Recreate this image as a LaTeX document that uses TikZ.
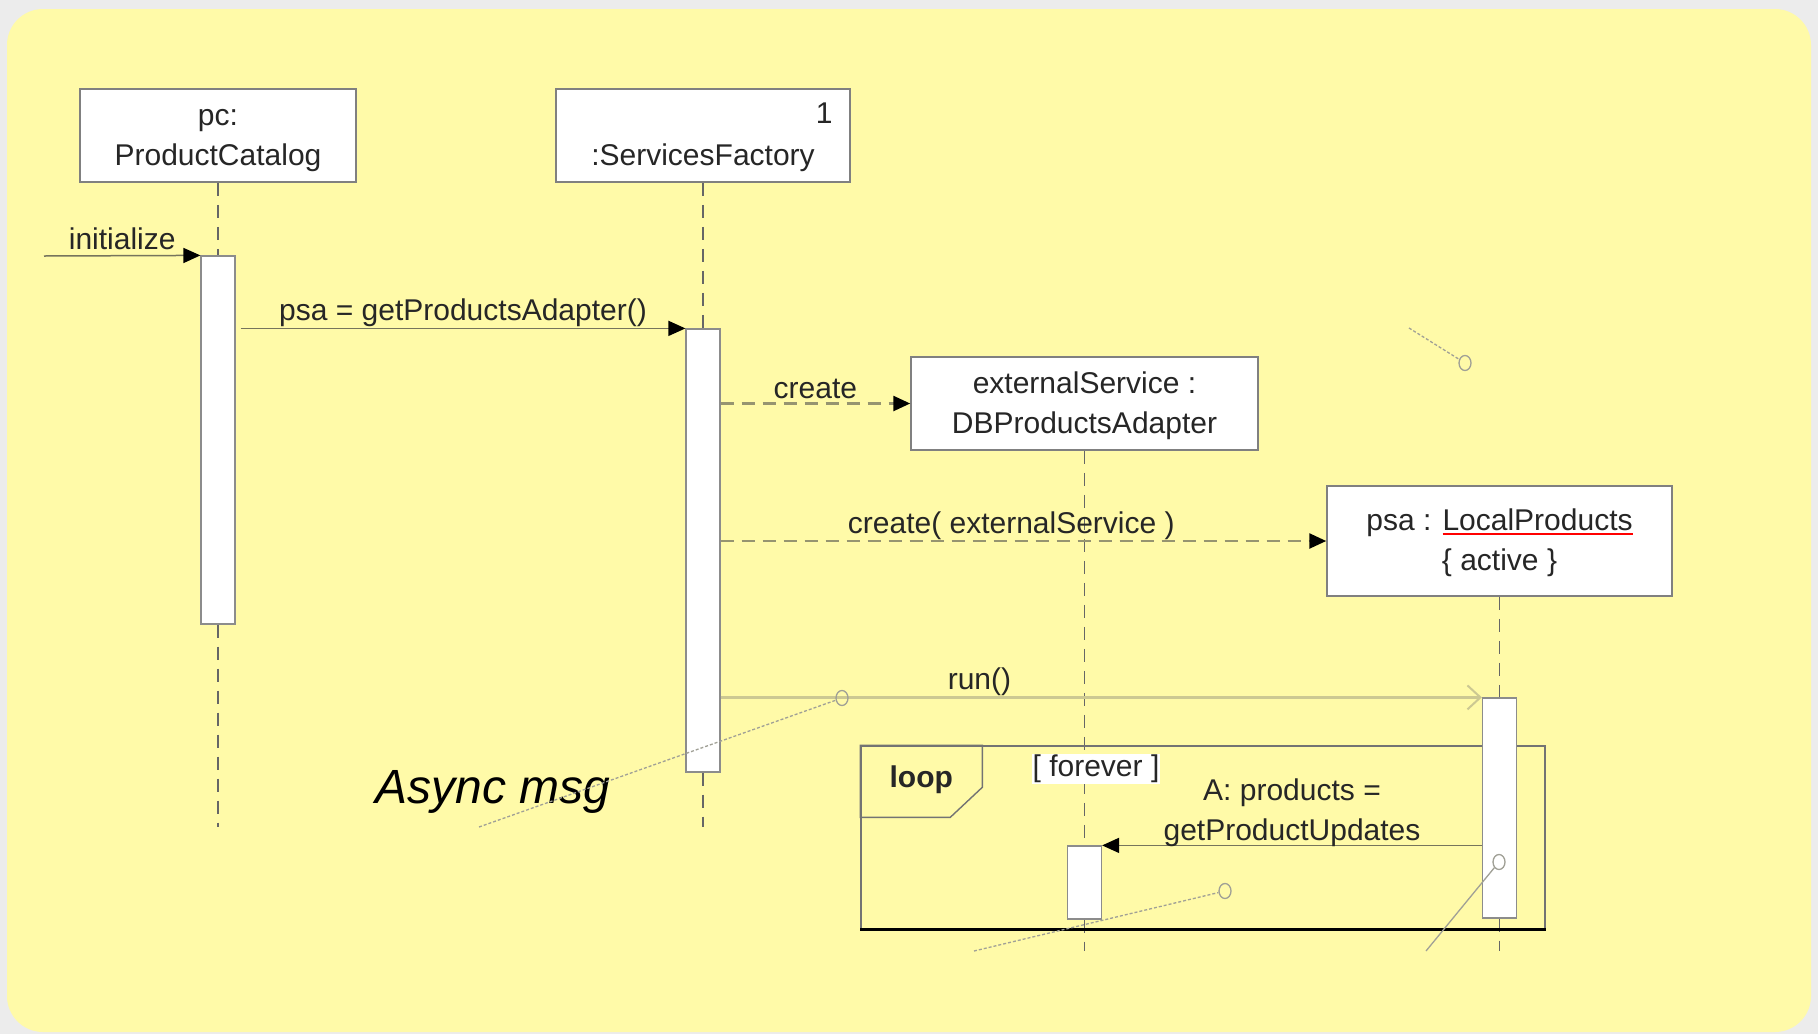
\documentclass[tikz,border=0pt]{standalone}
\usepackage{fontspec}
\setmainfont{Liberation Sans}
\usetikzlibrary{arrows.meta,positioning,shapes.geometric}

\definecolor{notepad}{RGB}{255,250,168}
\definecolor{pagegray}{RGB}{236,236,236}
\definecolor{msgline}{RGB}{118,116,92}
\definecolor{createline}{RGB}{150,148,112}
\definecolor{asyncline}{RGB}{204,200,146}
\definecolor{noteline}{RGB}{160,160,150}
\newsavebox\underbox
\newcommand\redunder[1]{\sbox\underbox{#1}\rlap{\textcolor{red}{\rule[-4pt]{\wd\underbox}{2.2pt}}}\usebox\underbox}
\newcommand\firstline{\rule{0pt}{26pt}}

\tikzset{
  umltext/.style={font=\fontsize{30}{40}\selectfont,text=black!85},
  objbox/.style={draw=black!50,line width=1.5pt,fill=white,umltext,align=center,inner sep=0pt},
  actbar/.style={draw=black!45,line width=1.2pt,fill=white,minimum width=34pt,inner sep=0pt},
  lifeline/.style={draw=black!60,line width=1.4pt,dash pattern=on 13pt off 9pt},
  callmsg/.style={draw=msgline,line width=1.5pt,-{Triangle[length=17pt,width=15pt,color=black]}},
  createmsg/.style={draw=createline,line width=2.5pt,dash pattern=on 13pt off 8pt,-{Triangle[length=17pt,width=15pt,color=black]}},
  asyncmsg/.style={draw=asyncline,line width=3pt,-{Straight Barb[length=13pt,width=24pt,line width=2pt]}},
  msglabel/.style={umltext,above,inner sep=0.5pt},
  notedot/.style={draw=noteline,line width=1.3pt,ellipse,minimum width=12pt,minimum height=15pt,inner sep=0pt},
  notetail/.style={draw=noteline,line width=1.3pt,dash pattern=on 3pt off 2pt},
}

\begin{document}
\begin{tikzpicture}[x=1pt,y=-1pt]
\useasboundingbox (0,0) rectangle (1818,1034);
\fill[pagegray] (0,0) rectangle (1818,1034);
\fill[notepad,rounded corners=36pt] (7,9) rectangle (1811,1032);

\node[objbox,minimum width=276pt,minimum height=93pt] (pc) at (218,135.5) {\firstline pc:\\ProductCatalog};
\node[objbox,minimum width=294pt,minimum height=93pt] (sf) at (703,135.5) {\firstline\\:ServicesFactory};
\node[umltext,anchor=north east,inner sep=0pt] (sfmult) at ([xshift=-18pt,yshift=-14pt]sf.north east) {1};
\node[objbox,minimum width=347pt,minimum height=93pt] (es) at (1084.5,403.5) {\firstline externalService :\\DBProductsAdapter};
\node[objbox,minimum width=345pt,minimum height=110pt] (psa) at (1499.5,541) {\firstline psa : \redunder{LocalProducts}\\\{ active \}};

\coordinate (pcend) at (218,827);
\coordinate (sfend) at (703,827);
\coordinate (esend) at (1084.5,951);
\coordinate (psaend) at (1499.5,951);
\coordinate (initfrom) at (44,256);

\node[actbar,minimum height=368pt] (pcact) at (218,440) {};
\node[actbar,minimum height=443pt] (sfact) at (703,550.5) {};
\node[actbar,minimum height=220pt] (psaact) at (1499.5,808) {};
\node[actbar,minimum height=73pt] (esact) at (1084.5,882.5) {};

\draw[lifeline] (pc.south) -- (pcact.north) (pcact.south) -- (pcend);
\draw[lifeline] (sf.south) -- (sfact.north) (sfact.south) -- (sfend);
\draw[lifeline] (es.south) -- (esact.north) (esact.south) -- (esend);
\draw[lifeline] (psa.south) -- (psaact.north) (psaact.south) -- (psaend);

\node[draw=black!55,line width=1.4pt,minimum width=684pt,minimum height=183pt,inner sep=0pt] (loop) at (1203,837.5) {};
\draw[draw=black!55,line width=1.4pt] (loop.north west) -- ++(122,0) -- ++(0,42) -- ++(-32,30) -- ++(-90,0) -- cycle;
\draw[line width=3pt] (loop.south west) -- (loop.south east);
\node[umltext,font=\fontsize{30}{40}\selectfont\bfseries] (looptag) at ([shift={(61,34)}]loop.north west) {loop};

\draw[callmsg] (initfrom) -- node[msglabel,yshift=5pt] {initialize} (pcact.north west);
\draw[callmsg] ([xshift=5pt]pcact.east |- sfact.north) -- node[msglabel] {psa = getProductsAdapter()} (sfact.north west);
\draw[createmsg] (sfact.east |- es.west) -- node[msglabel,yshift=3pt] {create} (es.west);
\draw[createmsg] (sfact.east |- psa.west) -- node[msglabel,pos=0.48] {create( externalService )} (psa.west);
\draw[asyncmsg] (sfact.east |- psaact.north) -- node[msglabel,pos=0.34] {run()} (psaact.north west);

\node[actbar,minimum height=220pt] at (psaact) {};
\node[actbar,minimum height=73pt] at (esact) {};
\draw[callmsg] (psaact.west |- esact.north) -- node[msglabel,align=center,yshift=-3pt] {A: products =\\getProductUpdates} (esact.north east);

\node[umltext,fill=white,inner sep=1pt] (guard) at (1096,769) {[ forever ]};

\node[font=\fontsize{48}{56}\selectfont\itshape] (asyncnote) at (493,792) {Async msg};

\node[notedot] (dotrun) at (842,698) {};
\node[notedot] (dottop) at (1465,363) {};
\node[notedot] (dotloop) at (1225,891) {};
\node[notedot] (dotpsa) at (1499,862) {};
\coordinate (tailrun) at (479,827);
\coordinate (tailtop) at (1409,328);
\coordinate (tailloop) at (974,951);
\coordinate (tailpsa) at (1426,951);
\draw[notetail] (tailrun) -- (dotrun);
\draw[notetail] (tailtop) -- (dottop);
\draw[notetail] (tailloop) -- (dotloop);
\draw[draw=noteline,line width=1.3pt] (tailpsa) -- (dotpsa);
\end{tikzpicture}
\end{document}
